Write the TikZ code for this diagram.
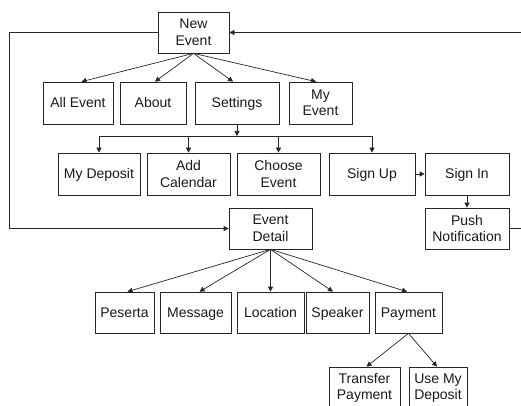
\documentclass[tikz,border=0pt]{standalone}
\usepackage{fontspec}
\setmainfont{Liberation Sans}
\usetikzlibrary{arrows.meta,calc}
\begin{document}
\begin{tikzpicture}[x=1pt,y=-1pt,
  box/.style={draw=black!85,line width=0.7pt,inner sep=0pt,align=center,font=\fontsize{14}{16.5}\selectfont,text=black!90},
  one/.style={box,text height=10pt,text depth=1pt},
  ln/.style={draw=black!85,line width=0.7pt},
  arr/.style={ln,-{Triangle[length=5pt,width=5pt]}}]
\useasboundingbox (0,0) rectangle (521,406);
% nodes
\node[box,minimum width=71pt,minimum height=41pt] (ne) at (193.5,32.5) {New\\Event};
\node[one,minimum width=70pt,minimum height=42pt] (ae) at (78,103) {All Event};
\node[one,minimum width=66pt,minimum height=42pt] (ab) at (153,103) {About};
\node[one,minimum width=84pt,minimum height=42pt] (st) at (237,103) {Settings};
\node[box,minimum width=63pt,minimum height=42pt] (me) at (320.5,103) {My\\Event};
\node[one,minimum width=82pt,minimum height=42pt] (md) at (99,174) {My Deposit};
\node[box,minimum width=83pt,minimum height=42pt] (ac) at (188.5,174) {Add\\Calendar};
\node[box,minimum width=83pt,minimum height=42pt] (ce) at (278.5,174) {Choose\\Event};
\node[one,minimum width=86pt,minimum height=42pt] (su) at (372,174) {Sign Up};
\node[one,minimum width=84pt,minimum height=42pt] (si) at (467,174) {Sign In};
\node[box,minimum width=84pt,minimum height=41pt] (pn) at (467,228.5) {Push\\Notification};
\node[box,minimum width=83pt,minimum height=41pt] (ed) at (270.5,228.5) {Event\\Detail};
\node[one,minimum width=59pt,minimum height=41pt] (pe) at (124.5,312.5) {Peserta};
\node[one,minimum width=71pt,minimum height=41pt] (ms) at (195.5,312.5) {Message};
\node[one,minimum width=67pt,minimum height=41pt] (lo) at (270.5,312.5) {Location};
\node[one,minimum width=63pt,minimum height=41pt] (sp) at (337.5,312.5) {Speaker};
\node[one,minimum width=67pt,minimum height=41pt] (pa) at (408.5,312.5) {Payment};
\node[box,minimum width=71pt,minimum height=42pt] (tp) at (364.5,388) {Transfer\\Payment};
\node[box,minimum width=58pt,minimum height=42pt] (ud) at (438,388) {Use My\\Deposit};
% connectors from New Event
\draw[arr] (ne.south) -- ($(ae.north)+(3.5,0)$);
\draw[arr] (ne.south) -- ($(ab.north)+(2,0)$);
\draw[arr] (ne.south) -- ($(st.north)+(-4,0)$);
\draw[arr] (ne.south) -- ($(me.north)+(-4.5,0)$);
% settings bus
\coordinate (bus) at (237,136);
\draw[arr] (st.south) -- (bus);
\draw[ln] (md.north |- bus) -- (su.north |- bus);
\draw[arr] (md.north |- bus) -- (md.north);
\draw[arr] (ac.north |- bus) -- (ac.north);
\draw[arr] (ce.north |- bus) -- (ce.north);
\draw[arr] (su.north |- bus) -- (su.north);
\draw[arr] (su.east) -- (si.west);
\draw[arr] (si.south) -- (pn.north);
% loops
\draw[arr] (ne.west) -- ++(-148.5,0) |- (ed.west);
\coordinate (rt) at (524,228.5);
\draw[arr] (pn.east) -- (rt) |- (ne.east);
% event detail
\draw[arr] (ed.south) -- ($(pe.north)+(3,0)$);
\draw[arr] (ed.south) -- ($(ms.north)+(4,0)$);
\draw[arr] (ed.south) -- (lo.north);
\draw[arr] (ed.south) -- ($(sp.north)+(-4.5,0)$);
\draw[arr] (ed.south) -- ($(pa.north)+(-1.5,0)$);
% payment
\draw[arr] (pa.south) -- ($(tp.north)+(2,0)$);
\draw[arr] (pa.south) -- ($(ud.north)+(-1,0)$);
\end{tikzpicture}
\end{document}
